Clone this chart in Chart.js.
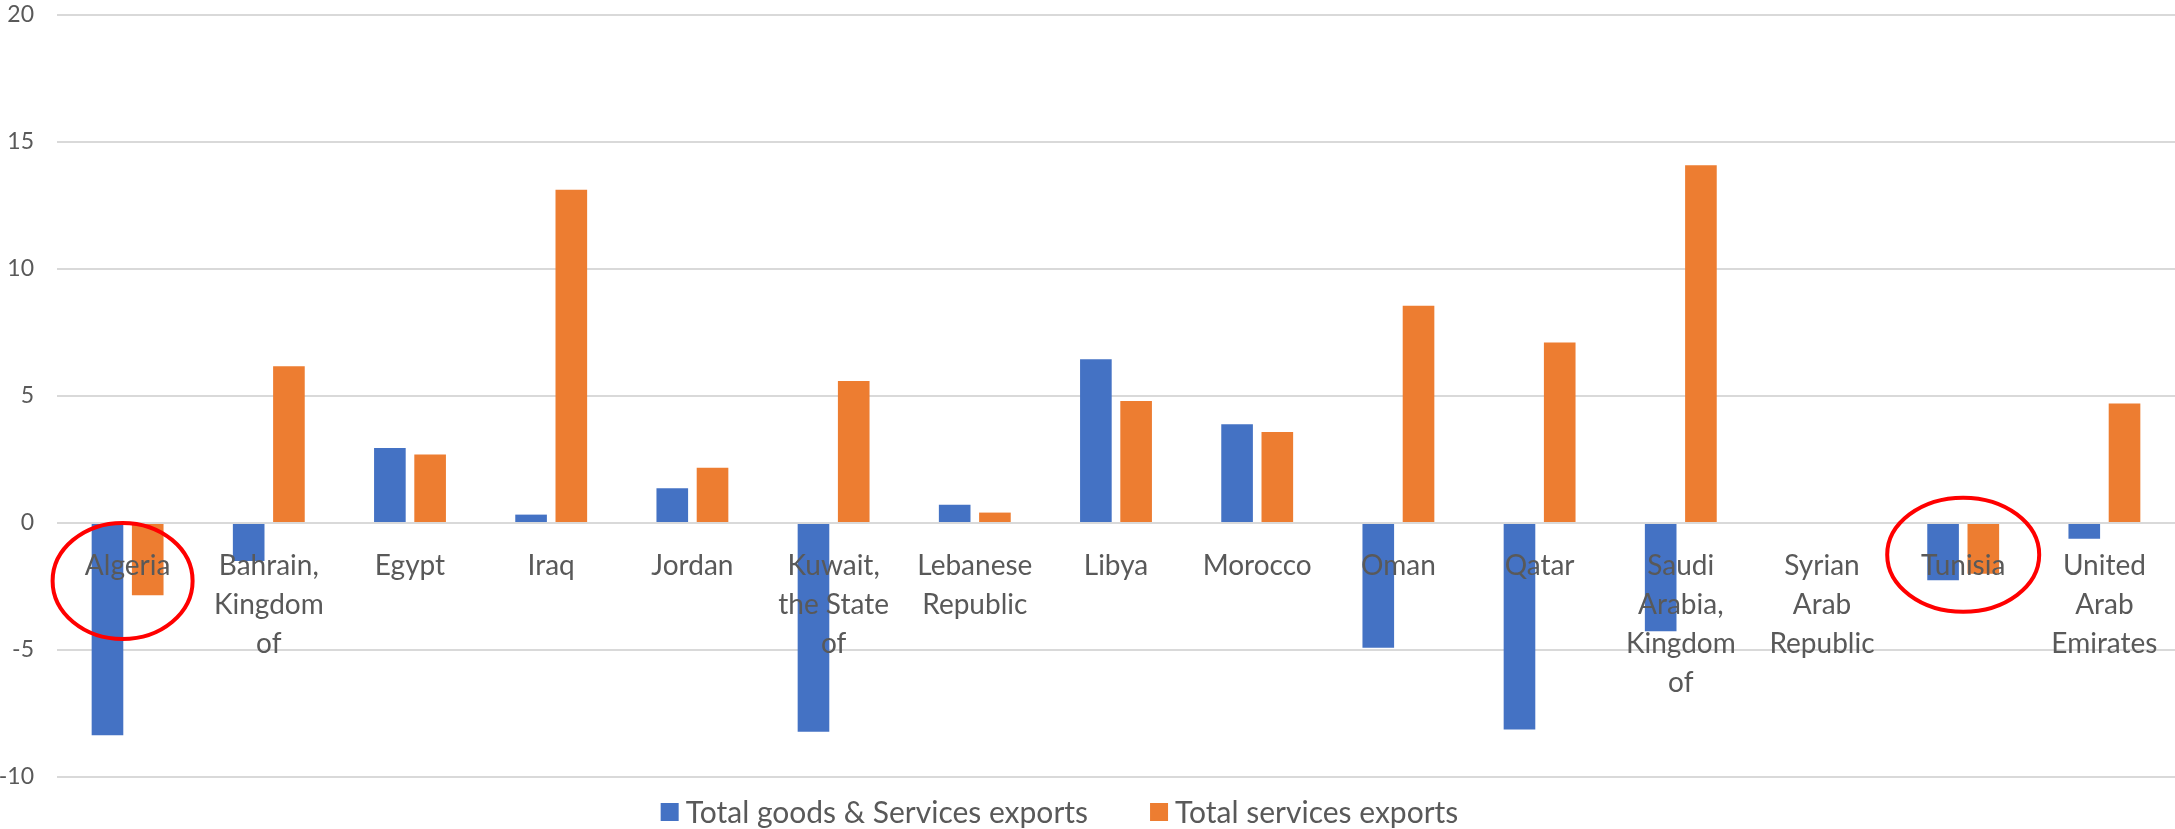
<!DOCTYPE html>
<html lang="en">
<head>
    <meta charset="UTF-8">
    <title>Exports by country</title>
    <script src="https://cdn.jsdelivr.net/npm/chart.js"></script>
    <style>
        body {
            margin: 0;
            padding: 0;
            background-color: #ffffff;
        }

        .chart-wrap {
            width: 2175px;
            height: 829px;
            position: relative;
        }
    </style>
</head>
<body>
    <div class="chart-wrap">
        <canvas id="exportsChart"></canvas>
    </div>

    <script>
        const countries = [
            'Algeria',
            ['Bahrain,', 'Kingdom', 'of'],
            'Egypt',
            'Iraq',
            'Jordan',
            ['Kuwait,', 'the State', 'of'],
            ['Lebanese', 'Republic'],
            'Libya',
            'Morocco',
            'Oman',
            'Qatar',
            ['Saudi', 'Arabia,', 'Kingdom', 'of'],
            ['Syrian', 'Arab', 'Republic'],
            'Tunisia',
            ['United', 'Arab', 'Emirates']
        ];

        const goodsAndServices = [-8.36, -1.5, 2.95, 0.33, 1.37, -8.22, 0.72, 6.45, 3.89, -4.91, -8.13, -4.26, null, -2.25, -0.62];
        const servicesOnly = [-2.84, 6.17, 2.70, 13.12, 2.18, 5.59, 0.41, 4.80, 3.58, 8.55, 7.11, 14.08, null, -2.0, 4.70];

        const yTicks = [-10, -5, 0, 5, 10, 15, 20];

        // red rings drawn around a couple of categories
        const highlights = [
            { index: 0, dx: -5, y: -2.28, rx: 70, ry: 58 },
            { index: 13, dx: 0, y: -1.25, rx: 76, ry: 57 }
        ];

        const textColor = '#595959';
        const fontFamily = 'Lato, "Open Sans", sans-serif';

        const ringPlugin = {
            id: 'rings',
            afterDraw(chart) {
                const ctx = chart.ctx;
                const x = chart.scales.x;
                const y = chart.scales.y;
                ctx.save();
                ctx.strokeStyle = '#ff0000';
                ctx.lineWidth = 4;
                highlights.forEach(h => {
                    const cx = x.getPixelForValue(h.index) + h.dx;
                    const cy = y.getPixelForValue(h.y);
                    ctx.beginPath();
                    ctx.ellipse(cx, cy, h.rx, h.ry, 0, 0, Math.PI * 2);
                    ctx.stroke();
                });
                ctx.restore();
            }
        };

        // legend row under the plot, built from the dataset labels and colours
        const legendPlugin = {
            id: 'bottomLegend',
            afterDraw(chart) {
                const ctx = chart.ctx;
                const box = 18;
                const textGap = 7;
                const itemGap = 62;
                const y = chart.chartArea.bottom + 36;
                ctx.save();
                ctx.font = '30px ' + fontFamily;
                ctx.textBaseline = 'middle';
                const items = chart.data.datasets.map(ds => ({
                    text: ds.label,
                    color: ds.backgroundColor,
                    width: ctx.measureText(ds.label).width
                }));
                let total = itemGap * (items.length - 1);
                items.forEach(it => { total += box + textGap + it.width; });
                let x = chart.width / 2 - 28 - total / 2;
                items.forEach(it => {
                    ctx.fillStyle = it.color;
                    ctx.fillRect(x, y - box / 2 - 1, box, box);
                    x += box + textGap;
                    ctx.fillStyle = textColor;
                    ctx.fillText(it.text, x, y);
                    x += it.width + itemGap;
                });
                ctx.restore();
            }
        };

        new Chart(document.getElementById('exportsChart'), {
            type: 'bar',
            data: {
                labels: countries,
                datasets: [
                    {
                        label: 'Total goods & Services exports',
                        data: goodsAndServices,
                        backgroundColor: '#4472c4',
                        categoryPercentage: 0.57,
                        barPercentage: 0.786
                    },
                    {
                        label: 'Total services exports',
                        data: servicesOnly,
                        backgroundColor: '#ed7d31',
                        categoryPercentage: 0.57,
                        barPercentage: 0.786
                    }
                ]
            },
            options: {
                responsive: true,
                maintainAspectRatio: false,
                animation: false,
                layout: {
                    padding: { top: 15, right: 0, bottom: 52, left: 0 }
                },
                scales: {
                    x: {
                        position: { y: 0 },
                        grid: { display: false },
                        border: { display: false },
                        ticks: {
                            z: 1,
                            autoSkip: false,
                            maxRotation: 0,
                            minRotation: 0,
                            padding: 16,
                            color: textColor,
                            font: { family: fontFamily, size: 28, lineHeight: 1.39 }
                        }
                    },
                    y: {
                        min: yTicks[0],
                        max: yTicks[yTicks.length - 1],
                        afterBuildTicks(scale) {
                            scale.ticks = yTicks.map(v => ({ value: v }));
                        },
                        afterFit(scale) {
                            scale.width = 57;
                            scale.paddingTop = 0;
                        },
                        grid: {
                            color: '#d9d9d9',
                            lineWidth: 2,
                            drawTicks: false
                        },
                        border: { display: false },
                        ticks: {
                            padding: 23,
                            color: textColor,
                            font: { family: fontFamily, size: 23 }
                        }
                    }
                },
                plugins: {
                    legend: { display: false },
                    tooltip: { enabled: false }
                }
            },
            plugins: [ringPlugin, legendPlugin]
        });
    </script>
</body>
</html>
